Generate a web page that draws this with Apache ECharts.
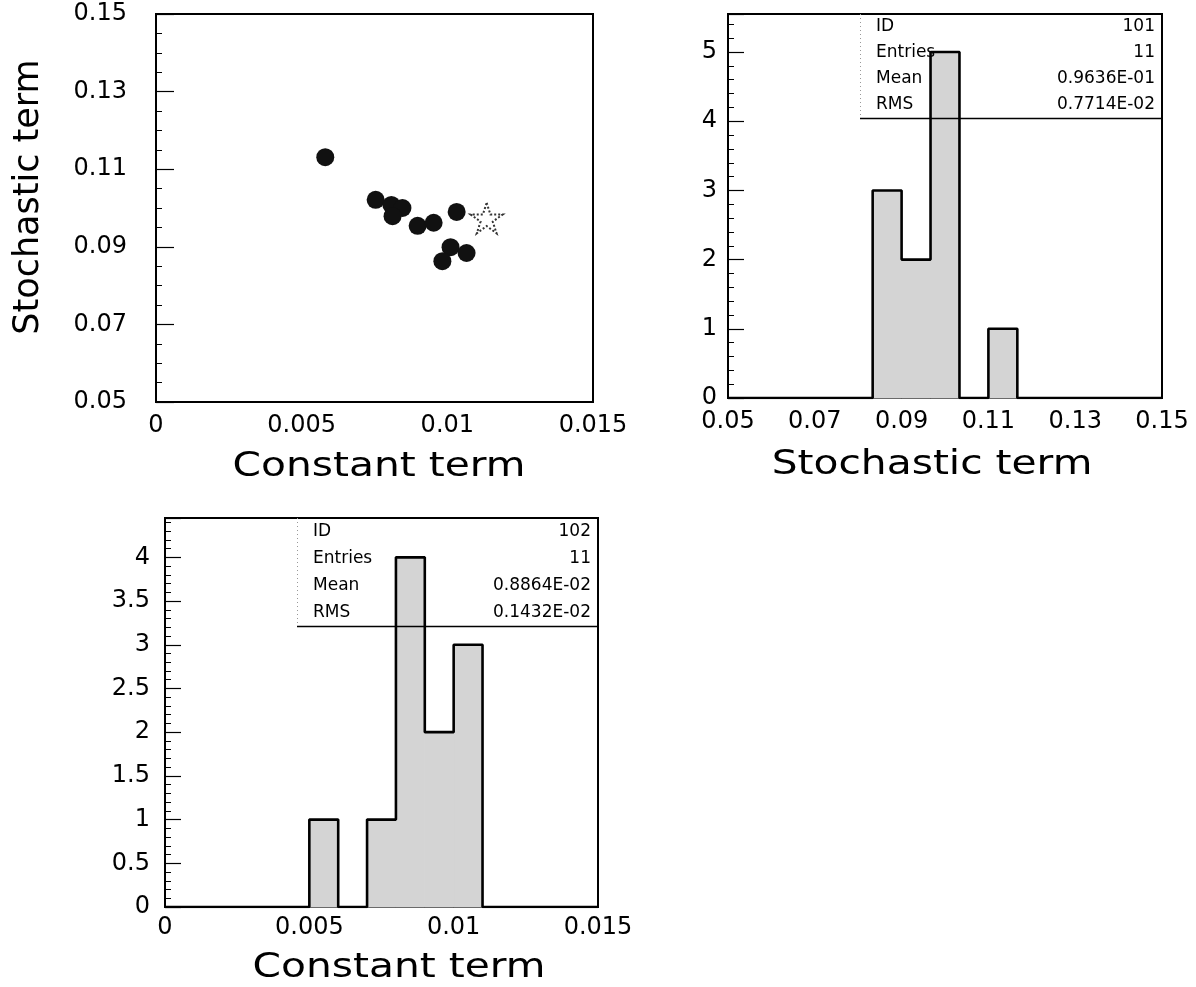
<!DOCTYPE html>
<html><head><meta charset="utf-8">
<script src="https://cdn.jsdelivr.net/npm/echarts@6/dist/echarts.min.js"></script>
<style>html,body{margin:0;padding:0;background:#fff}#c{width:1196px;height:987px}</style>
</head><body><div id="c"></div>
<script>
// ---- data ----
const scatterConst = [0.00581, 0.00754, 0.00808, 0.00846, 0.00812, 0.00898, 0.00953, 0.01032, 0.01011, 0.01066, 0.00983];
const scatterStoch = [0.1131, 0.1021, 0.1008, 0.1000, 0.0979, 0.0954, 0.0962, 0.0990, 0.0899, 0.0884, 0.0863];
const starPoint = [0.01135, 0.0974];

const stochRange = [0.05, 0.15];
const stochCounts = [0, 0, 0, 0, 0, 3, 2, 5, 0, 1, 0, 0, 0, 0, 0];
const constRange = [0, 0.015];
const constCounts = [0, 0, 0, 0, 0, 1, 0, 1, 4, 2, 3, 0, 0, 0, 0];

const statLabels = ['ID', 'Entries', 'Mean', 'RMS'];
const stats101 = ['101', '11', '0.9636E-01', '0.7714E-02'];
const stats102 = ['102', '11', '0.8864E-02', '0.1432E-02'];

const xTitleConst = 'Constant term';
const xTitleStoch = 'Stochastic term';
const yTitleStoch = 'Stochastic term';

// ---- helpers ----
function binTable(range, counts) {
  const w = (range[1] - range[0]) / counts.length;
  return counts.map((c, k) => [range[0] + k * w, range[0] + (k + 1) * w, c]);
}
function outline(range, counts) {
  const t = binTable(range, counts);
  const pts = [[range[0], 0]];
  t.forEach(b => { pts.push([b[0], b[2]]); pts.push([b[1], b[2]]); });
  pts.push([range[1], 0]);
  return pts;
}
const fillCol = '#d4d4d4';
function renderBar(params, api) {
  const c = api.value(2);
  if (!c) return;
  const p0 = api.coord([api.value(0), c]);
  const p1 = api.coord([api.value(1), 0]);
  return { type: 'rect', shape: { x: p0[0], y: p0[1], width: p1[0] - p0[0], height: p1[1] - p0[1] },
           style: { fill: fillCol, stroke: fillCol, lineWidth: 1 } };
}
const fmt = v => String(parseFloat(v.toFixed(4)));

const tickFont = { color: '#000', fontFamily: 'DejaVu Sans', fontSize: 24 };
const axisLine = { show: true, lineStyle: { color: '#000', width: 2 } };

function statGraphics(x0, x1, y0, y1, vals) {
  const els = [];
  els.push({ type: 'line', shape: { x1: x0, y1: y1 + 0.5, x2: x1, y2: y1 + 0.5 }, style: { stroke: '#000', lineWidth: 1.5 }, z: 100 });
  els.push({ type: 'line', shape: { x1: x0 + 0.5, y1: y0, x2: x0 + 0.5, y2: y1 }, style: { stroke: '#999', lineWidth: 1, lineDash: [1, 3] }, z: 100 });
  const rowH = (y1 - y0) / 4;
  statLabels.forEach((lab, i) => {
    const y = y0 + rowH * (i + 0.5);
    els.push({ type: 'text', x: x0 + 16, y: y, style: { text: lab, fill: '#000', font: '17px "DejaVu Sans"', textVerticalAlign: 'middle', textAlign: 'left' }, z: 101 });
    els.push({ type: 'text', x: x1 - 7, y: y, style: { text: vals[i], fill: '#000', font: '17px "DejaVu Sans"', textVerticalAlign: 'middle', textAlign: 'right' }, z: 101 });
  });
  return els;
}
function title(text, x, y, size, sx, rot) {
  return { type: 'text', x: x, y: y, scaleX: sx, rotation: rot || 0, z: 100,
           style: { text: text, fill: '#000', font: size + 'px "DejaVu Sans"', textAlign: 'center', textVerticalAlign: 'middle' } };
}

const starPath = 'path://M50 0 L61.2 34.6 L97.6 34.5 L68.1 55.9 L79.4 90.5 L50 69 L20.6 90.5 L31.9 55.9 L2.4 34.5 L38.8 34.6 Z';
const gridBase = { show: true, borderColor: '#000', borderWidth: 2, backgroundColor: 'transparent', containLabel: false, outerBoundsMode: 'none' };

const chart = echarts.init(document.getElementById('c'), null, { renderer: 'canvas' });
chart.setOption({
  animation: false,
  backgroundColor: '#fff',
  grid: [
    Object.assign({ left: 156, top: 14, width: 437, height: 388 }, gridBase),
    Object.assign({ left: 728, top: 14, width: 434, height: 384 }, gridBase),
    Object.assign({ left: 165, top: 518, width: 433, height: 389 }, gridBase)
  ],
  xAxis: [
    { gridIndex: 0, type: 'value', min: constRange[0], max: constRange[1], interval: 0.005,
      axisLine, axisTick: { show: false }, splitLine: { show: false },
      axisLabel: Object.assign({ margin: 12, formatter: fmt }, tickFont) },
    { gridIndex: 1, type: 'value', min: stochRange[0], max: stochRange[1], interval: 0.02,
      axisLine, axisTick: { show: false }, splitLine: { show: false },
      axisLabel: Object.assign({ margin: 12, formatter: v => v.toFixed(2) }, tickFont) },
    { gridIndex: 2, type: 'value', min: constRange[0], max: constRange[1], interval: 0.005,
      axisLine, axisTick: { show: false }, splitLine: { show: false },
      axisLabel: Object.assign({ margin: 9, formatter: fmt }, tickFont) }
  ],
  yAxis: [
    { gridIndex: 0, type: 'value', min: 0.05, max: 0.15, interval: 0.02,
      axisLine, splitLine: { show: false },
      axisTick: { show: true, inside: true, length: 18, lineStyle: { color: '#000', width: 1.2 } },
      minorTick: { show: true, splitNumber: 4, length: 6, lineStyle: { color: '#000', width: 1 } },
      axisLabel: Object.assign({ margin: 29, formatter: v => v.toFixed(2) }, tickFont) },
    { gridIndex: 1, type: 'value', min: 0, max: 5.55, interval: 1,
      axisLine, splitLine: { show: false },
      axisTick: { show: true, inside: true, length: 16, lineStyle: { color: '#000', width: 1.2 } },
      minorTick: { show: true, splitNumber: 5, length: 6, lineStyle: { color: '#000', width: 1 } },
      axisLabel: Object.assign({ margin: 11, showMaxLabel: false }, tickFont) },
    { gridIndex: 2, type: 'value', min: 0, max: 4.45, interval: 0.5,
      axisLine, splitLine: { show: false },
      axisTick: { show: true, inside: true, length: 16, lineStyle: { color: '#000', width: 1.2 } },
      minorTick: { show: true, splitNumber: 5, length: 6, lineStyle: { color: '#000', width: 1 } },
      axisLabel: Object.assign({ margin: 15, showMaxLabel: false }, tickFont) }
  ],
  series: [
    { type: 'scatter', xAxisIndex: 0, yAxisIndex: 0, symbol: 'circle', symbolSize: 18,
      itemStyle: { color: '#111', opacity: 1 },
      data: scatterConst.map((x, i) => [x, scatterStoch[i]]) },
    { type: 'scatter', xAxisIndex: 0, yAxisIndex: 0, symbol: starPath, symbolKeepAspect: true, symbolSize: 32,
      itemStyle: { color: 'rgba(0,0,0,0)', borderColor: '#333', borderWidth: 2, borderType: [2, 2], opacity: 1 },
      data: [starPoint] },
    { type: 'custom', xAxisIndex: 1, yAxisIndex: 1, renderItem: renderBar,
      encode: { x: [0, 1], y: 2 }, data: binTable(stochRange, stochCounts) },
    { type: 'line', xAxisIndex: 1, yAxisIndex: 1, symbol: 'none', z: 5,
      lineStyle: { color: '#000', width: 2.6 }, data: outline(stochRange, stochCounts) },
    { type: 'custom', xAxisIndex: 2, yAxisIndex: 2, renderItem: renderBar,
      encode: { x: [0, 1], y: 2 }, data: binTable(constRange, constCounts) },
    { type: 'line', xAxisIndex: 2, yAxisIndex: 2, symbol: 'none', z: 5,
      lineStyle: { color: '#000', width: 2.6 }, data: outline(constRange, constCounts) }
  ],
  graphic: statGraphics(860, 1162, 14, 118, stats101)
    .concat(statGraphics(297, 598, 518, 626, stats102))
    .concat([
      title(xTitleConst, 379, 467, 33, 1.235),
      title(xTitleStoch, 932, 465.5, 33, 1.235),
      title(xTitleConst, 399, 968.5, 33, 1.235),
      title(yTitleStoch, 28.5, 197, 35, 1, Math.PI / 2)
    ])
});
</script>
</body></html>
